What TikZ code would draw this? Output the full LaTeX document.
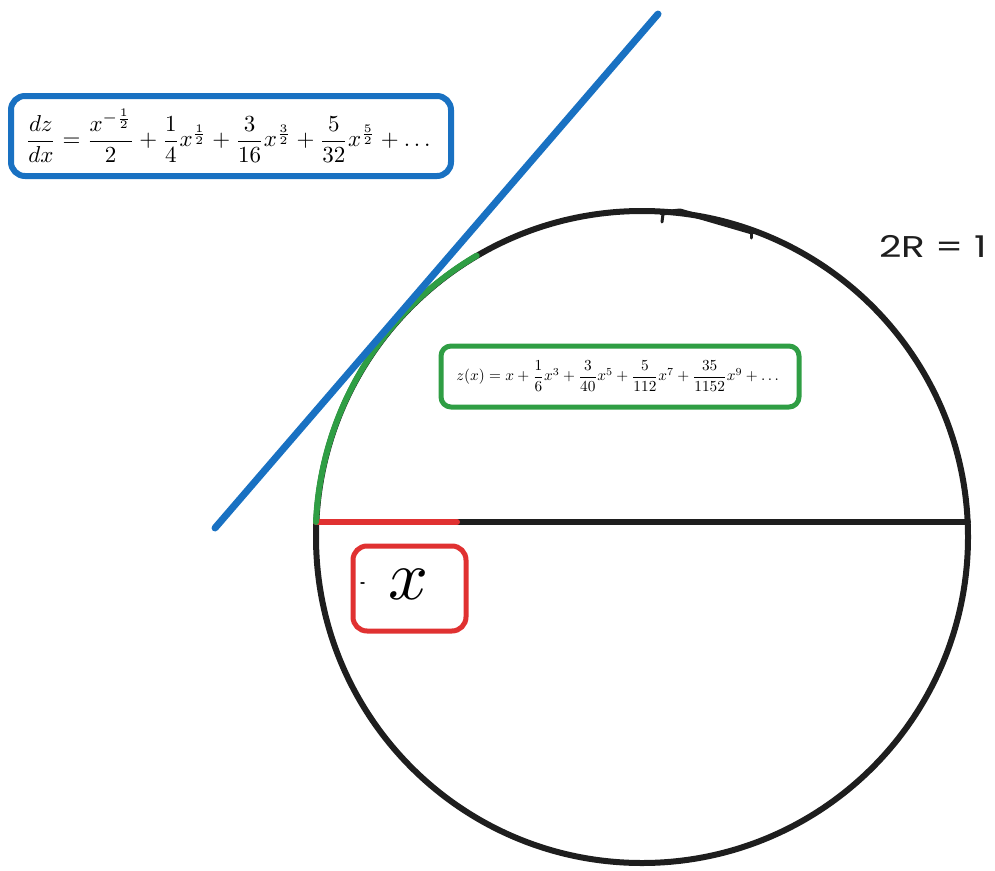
\documentclass[tikz,border=0pt]{standalone}
\usepackage{amsmath}
\usepackage{fontspec}
\newfontfamily\handfont{Poppins}
\definecolor{exblue}{HTML}{1971C2}
\definecolor{exgreen}{HTML}{2F9E44}
\definecolor{exred}{HTML}{E03131}
\definecolor{exblack}{HTML}{1E1E1E}
\begin{document}
\begin{tikzpicture}[x=1pt,y=-1pt,line cap=round,line join=round,
  framebox/.style={draw,line width=6pt,rounded corners=14pt,fill=white},
  stroke/.style={line width=6pt}]
\useasboundingbox (0,0) rectangle (995,870);
% circle
\coordinate (C) at (642,537);
\draw[exblack,stroke] (C) circle[radius=326];
% diameter
\coordinate (L) at (316,522);
\coordinate (Rr) at (968,522);
\coordinate (M) at (457,522);
\draw[exblack,stroke] (L) -- (Rr);
\draw[exred,stroke] (L) -- (M);
% green arc
\draw[exgreen,stroke] (L) arc[start angle=182.6,end angle=239.6,radius=326];
% tangent line
\coordinate (T1) at (215,528);
\coordinate (T2) at (658,14);
\draw[exblue,line width=7pt] (T1) -- (T2);
% top tick artifacts
\draw[exblack,line width=5pt] (662,213) -- (680,211) -- (752,232);
\draw[exblack,line width=3pt] (663,214) -- (662,222);
\draw[exblack,line width=3pt] (751,231) -- (751,238);
% boxes
\draw[exblue,framebox] (11,96) rectangle (451,176);
\node (dz) at (230,136) {\scalebox{2.3}{$\dfrac{dz}{dx}=\dfrac{x^{-\frac{1}{2}}}{2}+\dfrac{1}{4}x^{\frac{1}{2}}+\dfrac{3}{16}x^{\frac{3}{2}}+\dfrac{5}{32}x^{\frac{5}{2}}+\dots$}};
\draw[exgreen,framebox,line width=5pt,rounded corners=10pt] (441,346) rectangle (799,407);
\node (zx) at (619,376) {\scalebox{1.53}{$z(x)=x+\dfrac{1}{6}x^3+\dfrac{3}{40}x^5+\dfrac{5}{112}x^7+\dfrac{35}{1152}x^9+\dots$}};
\draw[exred,framebox,line width=5pt,rounded corners=14pt] (353,546) rectangle (466,631);
\node (xl) at (408,584) {\scalebox{7}{$x$}};
\draw[exblack,line width=1.5pt] (361,583) -- (364,583);
% label
\node[exblack,font=\handfont\fontsize{30}{34}\selectfont,xscale=1.3] (lab) at (933,246) {2R = 1};
\end{tikzpicture}
\end{document}
